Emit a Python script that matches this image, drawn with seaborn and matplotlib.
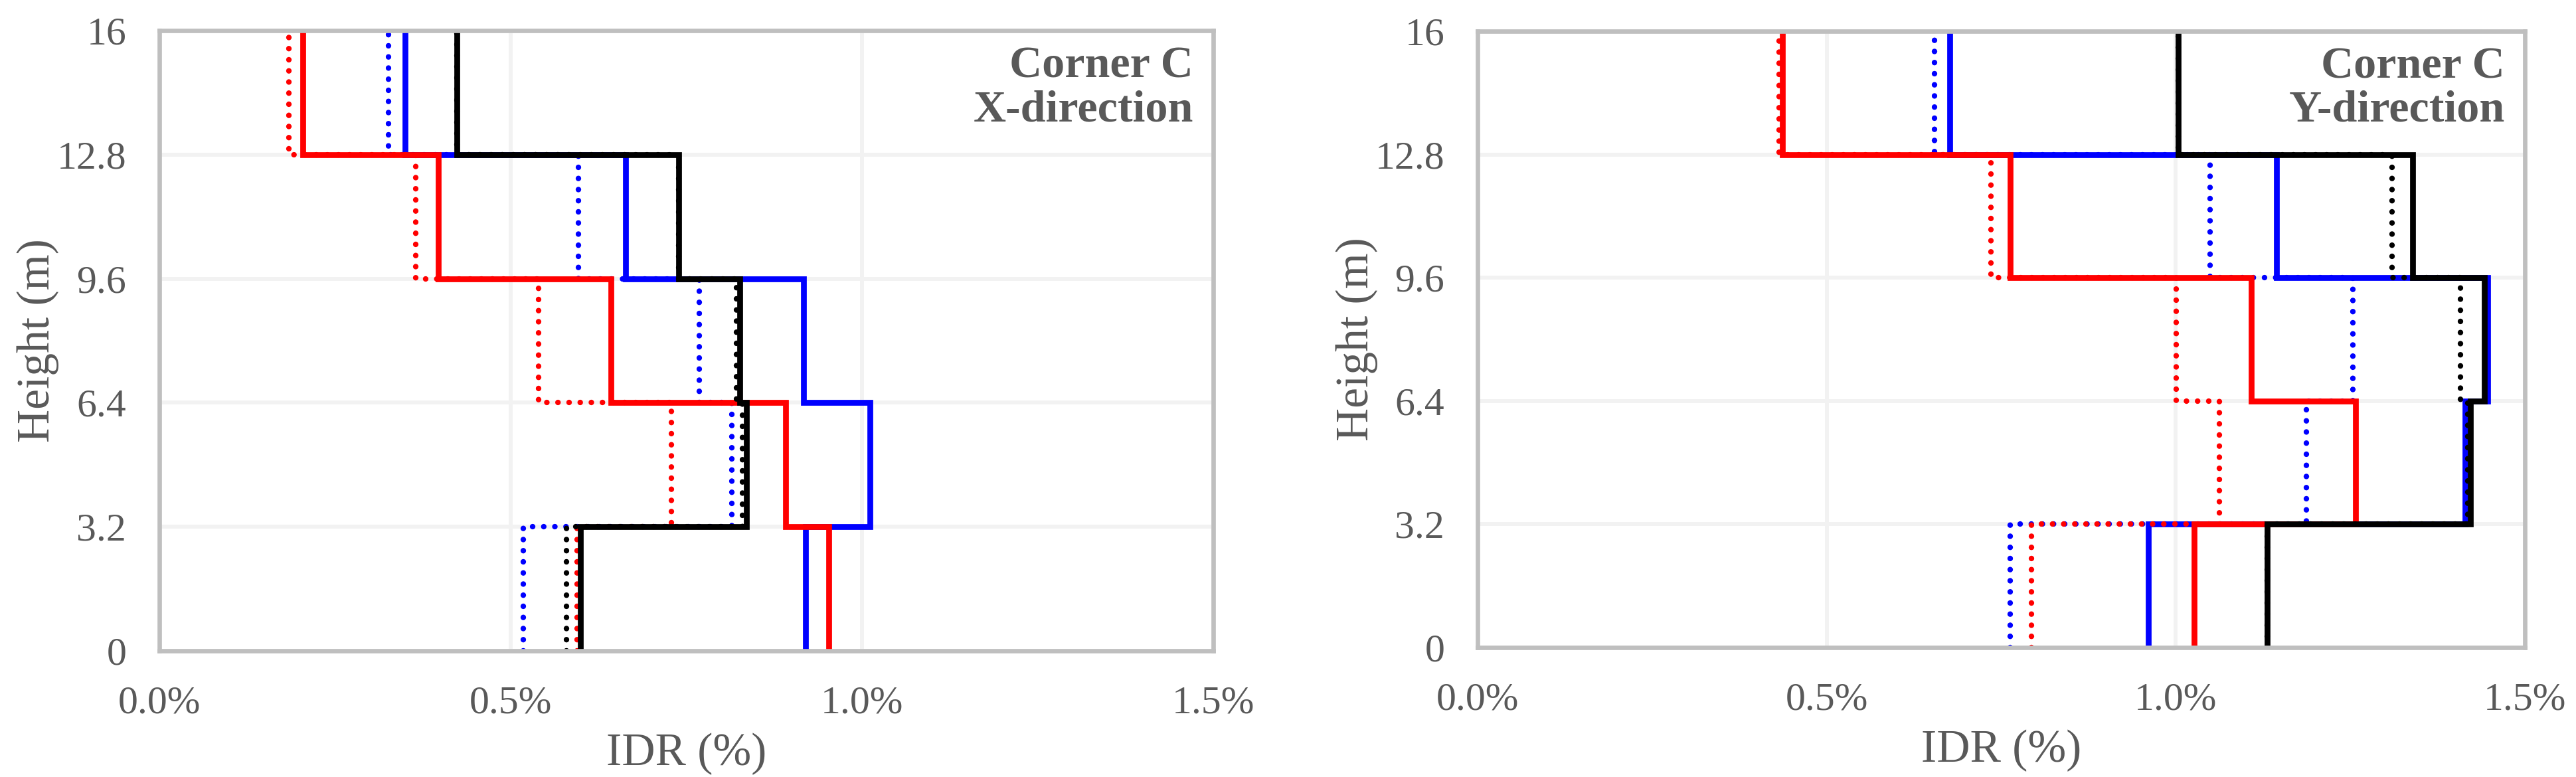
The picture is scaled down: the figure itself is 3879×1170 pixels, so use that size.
import matplotlib
matplotlib.use("Agg")
import matplotlib.pyplot as plt
import numpy as np
import pandas as pd
import seaborn as sns

# floor levels (m) and story drift ratios (%) for stories 1..5
floor_levels = [0, 3.2, 6.4, 9.6, 12.8, 16]

# Corner C, X-direction
x_black_solid = [0.599, 0.835, 0.826, 0.739, 0.423]
x_black_dot = [0.579, 0.830, 0.821, 0.739, 0.423]
x_blue_solid = [0.920, 1.011, 0.917, 0.663, 0.350]
x_blue_dot = [0.518, 0.815, 0.768, 0.596, 0.326]
x_red_solid = [0.953, 0.891, 0.643, 0.397, 0.204]
x_red_dot = [0.594, 0.729, 0.540, 0.365, 0.184]

# Corner C, Y-direction
y_black_solid = [1.131, 1.422, 1.442, 1.339, 1.003]
y_black_dot = [1.131, 1.418, 1.408, 1.310, 1.003]
y_blue_solid = [0.961, 1.414, 1.447, 1.144, 0.676]
y_blue_dot = [0.763, 1.187, 1.254, 1.049, 0.654]
y_red_solid = [1.026, 1.257, 1.108, 0.763, 0.436]
y_red_dot = [0.793, 1.062, 1.001, 0.735, 0.432]

x_ticks = [0.0, 0.5, 1.0, 1.5]
x_tick_labels = ["0.0%", "0.5%", "1.0%", "1.5%"]
y_tick_labels = ["0", "3.2", "6.4", "9.6", "12.8", "16"]

sns.set_style("white")
plt.rcParams["font.family"] = "serif"
plt.rcParams["font.serif"] = ["Liberation Serif", "Times New Roman", "DejaVu Serif"]

TXT = "#595959"
FRAME = "#BFBFBF"
GRID = "#F2F2F2"
DOT = (0, (0.01, 2))


def story_profile(drifts):
    # vertical segment per story, joined at the floor levels
    h = np.repeat(floor_levels, 2)[1:-1]
    return pd.DataFrame({"idr": np.repeat(drifts, 2), "h": h})


def draw_panel(ax, series, title):
    for drifts, color, style in series:
        df = story_profile(drifts)
        if style == "solid":
            sns.lineplot(data=df, x="idr", y="h", sort=False, estimator=None,
                         color=color, linewidth=6.3, ax=ax,
                         solid_joinstyle="miter", solid_capstyle="butt")
        else:
            sns.lineplot(data=df, x="idr", y="h", sort=False, estimator=None,
                         color=color, linewidth=6, linestyle=DOT, ax=ax,
                         dash_capstyle="round")

    ax.set_xlim(0, 1.5)
    ax.set_ylim(0, 16)
    ax.set_xticks(x_ticks)
    ax.set_xticklabels(x_tick_labels)
    ax.set_yticks(floor_levels)
    ax.set_yticklabels(y_tick_labels)
    ax.set_axisbelow(True)
    ax.grid(True, color=GRID, linewidth=4.3)
    for sp in ax.spines.values():
        sp.set_visible(True)
        sp.set_color(FRAME)
        sp.set_linewidth(4.8)
    ax.tick_params(axis="both", direction="in", length=11, width=4.3,
                   color=FRAME, labelcolor=TXT, labelsize=43)
    ax.tick_params(axis="y", pad=36)
    ax.tick_params(axis="x", pad=38)
    ax.set_xlabel("IDR (%)", fontsize=50, color=TXT, labelpad=12)
    ax.set_ylabel("Height (m)", fontsize=50, color=TXT)
    ax.yaxis.set_label_coords(-0.095, 0.5)
    ax.text(0.981, 0.975, title, transform=ax.transAxes, ha="right", va="top",
            fontsize=49, fontweight="bold", color=TXT, linespacing=1.1)


fig = plt.figure(figsize=(38.8, 11.7), dpi=100)
ax1 = fig.add_axes([0.0619, 0.1624, 0.4090, 0.7983])
ax2 = fig.add_axes([0.5735, 0.1667, 0.4064, 0.7932])

draw_panel(ax1, [(x_blue_solid, "blue", "solid"), (x_blue_dot, "blue", "dot"),
                 (x_red_solid, "red", "solid"), (x_red_dot, "red", "dot"),
                 (x_black_solid, "black", "solid"), (x_black_dot, "black", "dot")],
           "Corner C\nX-direction")
draw_panel(ax2, [(y_blue_solid, "blue", "solid"), (y_blue_dot, "blue", "dot"),
                 (y_red_solid, "red", "solid"), (y_red_dot, "red", "dot"),
                 (y_black_solid, "black", "solid"), (y_black_dot, "black", "dot")],
           "Corner C\nY-direction")

fig.savefig("out.png", dpi=100, facecolor="white")
